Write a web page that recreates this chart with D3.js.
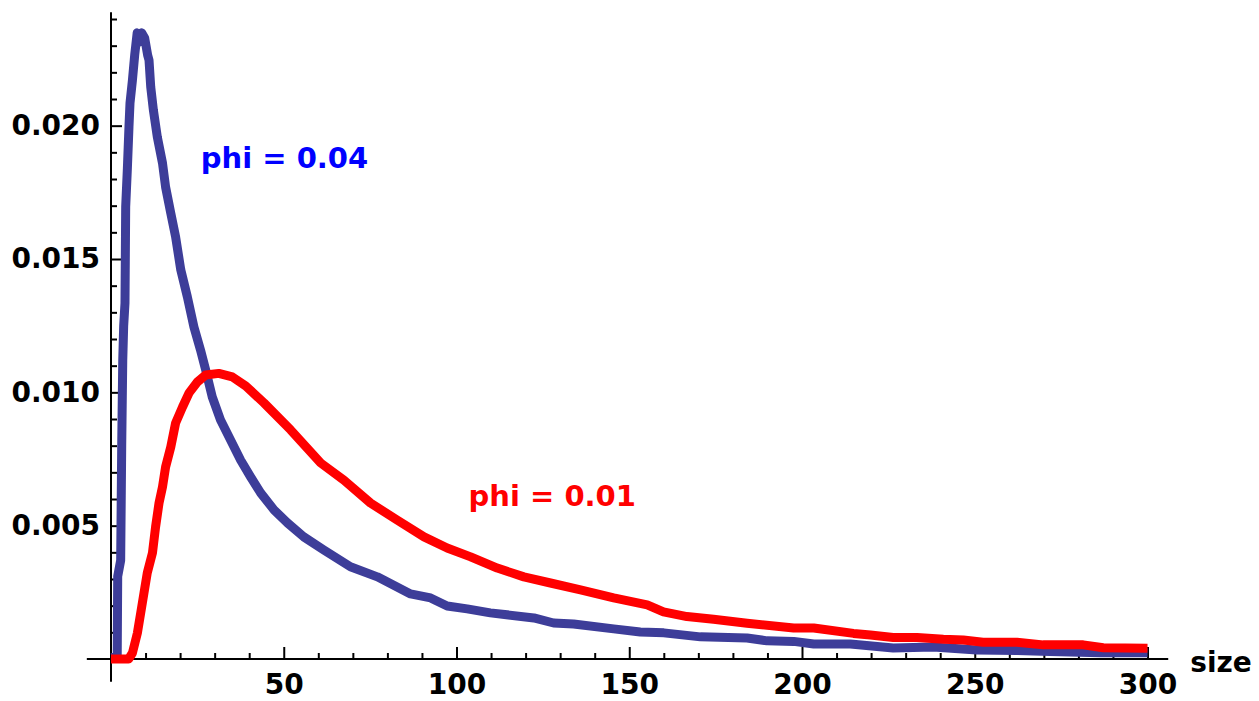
<!DOCTYPE html>
<html>
<head>
<meta charset="utf-8">
<script src="https://cdn.jsdelivr.net/npm/d3@7"></script>
<style>
  html, body { margin: 0; padding: 0; background: #fff; }
  svg text { font-family: "DejaVu Sans", sans-serif; font-weight: bold; }
</style>
</head>
<body>
<svg id="chart" width="1259" height="701"></svg>
<script>
// ---- data ----
const blueSize = [0.5, 1.8, 1.94, 2.8, 3.1, 3.4, 3.67, 4.05, 4.25, 4.74, 5.2, 5.5, 6.2, 6.86, 7.58, 8.3, 8.88, 9.75, 10.6, 11, 11.5, 12.26, 13.4, 14.9, 15.8, 17.3, 18.7, 20.2, 22.1, 24, 25.9, 27.4, 29.3, 31.7, 34.6, 37.5, 40.4, 43.3, 47.2, 51.1, 55.8, 61.6, 69.3, 77.1, 86.7, 92.5, 97.3, 103.1, 109.8, 122.4, 128.1, 133.9, 145.5, 153.2, 160, 170.6, 184.1, 189.9, 197.6, 203.4, 214, 226.4, 238, 250.6, 262.2, 271.8, 286.3, 300];
const blueValue = [0.00005, 0.00015, 0.0031, 0.0037, 0.008, 0.0112, 0.0125, 0.01335, 0.01695, 0.0184, 0.01995, 0.02085, 0.0217, 0.02265, 0.02348, 0.02314, 0.02348, 0.02329, 0.02265, 0.02246, 0.02145, 0.02059, 0.01958, 0.0186, 0.0177, 0.01672, 0.01583, 0.01459, 0.01358, 0.01245, 0.01159, 0.01084, 0.00983, 0.00896, 0.00821, 0.00746, 0.00683, 0.00623, 0.00559, 0.0051, 0.00458, 0.00409, 0.00346, 0.00308, 0.00244, 0.00229, 0.00199, 0.00188, 0.00173, 0.00154, 0.00135, 0.00131, 0.00113, 0.00101, 0.00098, 0.00083, 0.00079, 0.00068, 0.00066, 0.00056, 0.00056, 0.00041, 0.00045, 0.00034, 0.00032, 0.00028, 0.00023, 0.00023];

const redSize = [0, 5.1, 6.2, 7.64, 8.6, 9.55, 10.5, 12, 12.9, 13.9, 14.9, 15.8, 17.3, 18.7, 20.7, 22.6, 25, 27.4, 31.2, 35.1, 39, 44.3, 52, 60.7, 67.4, 75.1, 82.8, 90.6, 97.3, 104.1, 111.8, 119.5, 127.2, 135.9, 145.5, 155.2, 159.9, 166.7, 174.4, 184.1, 197.6, 203.4, 214.9, 219.8, 226.4, 233.3, 240.9, 246.7, 252.4, 262.2, 269.8, 281.4, 287.2, 300];
const redValue = [0, 0, 0.000225, 0.000975, 0.00173, 0.00248, 0.00323, 0.00398, 0.00495, 0.00585, 0.00645, 0.0072, 0.00795, 0.00885, 0.00945, 0.00998, 0.01039, 0.01065, 0.01071, 0.01058, 0.01024, 0.0096, 0.00859, 0.00735, 0.00671, 0.00585, 0.00521, 0.00458, 0.00416, 0.00383, 0.00341, 0.00308, 0.00285, 0.00259, 0.00229, 0.00203, 0.00177, 0.00159, 0.00149, 0.00134, 0.00116, 0.00116, 0.00096, 0.0009, 0.00081, 0.00081, 0.00074, 0.00071, 0.00063, 0.00063, 0.00053, 0.00053, 0.00042, 0.0004];

const xMajorTicks = [50, 100, 150, 200, 250, 300];
const xMinorTicks = [10, 20, 30, 40, 60, 70, 80, 90, 110, 120, 130, 140, 160, 170, 180, 190, 210, 220, 230, 240, 260, 270, 280, 290];
const yMajorTicks = [0.005, 0.010, 0.015, 0.020];
const yMinorTicks = [0.001, 0.002, 0.003, 0.004, 0.006, 0.007, 0.008, 0.009, 0.011, 0.012, 0.013, 0.014, 0.016, 0.017, 0.018, 0.019, 0.021, 0.022, 0.023, 0.024];
const xAxisExtent = [-7, 306];
const yAxisExtent = [-0.00085, 0.02425];
const labels = [
  { text: "phi = 0.04", size: 26, value: 0.0184, color: "#0000ff" },
  { text: "phi = 0.01", size: 103.5, value: 0.00575, color: "#ff0000" }
];

// ---- drawing ----
const svg = d3.select("#chart");
const x = d3.scaleLinear().domain([0, 300]).range([111, 1147.5]);
const y = d3.scaleLinear().domain([0, 0.024]).range([659, 19]);
const FS = 28;

// axis lines
svg.append("line")
  .attr("x1", x(xAxisExtent[0])).attr("x2", x(xAxisExtent[1]))
  .attr("y1", y(0)).attr("y2", y(0))
  .attr("stroke", "#000").attr("stroke-width", 2);
svg.append("line")
  .attr("x1", x(0)).attr("x2", x(0))
  .attr("y1", y(yAxisExtent[0])).attr("y2", y(yAxisExtent[1]))
  .attr("stroke", "#000").attr("stroke-width", 2);

function styleAxis(g) {
  g.select(".domain").remove();
  g.selectAll(".tick line").attr("stroke", "#000").attr("stroke-width", 2);
  g.selectAll(".tick text").attr("fill", "#000").style("font-size", FS + "px")
    .style("font-family", "DejaVu Sans, sans-serif").style("font-weight", "bold");
}

// x axis major
svg.append("g").attr("transform", `translate(0,${y(0)})`)
  .call(d3.axisBottom(x).tickValues(xMajorTicks).tickSizeInner(-12).tickSizeOuter(0)
    .tickPadding(15).tickFormat(d3.format("d")))
  .call(styleAxis);
// x axis minor
svg.append("g").attr("transform", `translate(0,${y(0)})`)
  .call(d3.axisBottom(x).tickValues(xMinorTicks).tickSizeInner(-6).tickSizeOuter(0).tickFormat(""))
  .call(styleAxis);
// y axis major
svg.append("g").attr("transform", `translate(${x(0)},0)`)
  .call(d3.axisLeft(y).tickValues(yMajorTicks).tickSizeInner(-11).tickSizeOuter(0)
    .tickPadding(11).tickFormat(d3.format(".3f")))
  .call(styleAxis);
// y axis minor
svg.append("g").attr("transform", `translate(${x(0)},0)`)
  .call(d3.axisLeft(y).tickValues(yMinorTicks).tickSizeInner(-6).tickSizeOuter(0).tickFormat(""))
  .call(styleAxis);

// axis label
svg.append("text")
  .attr("x", x(xAxisExtent[1]) + 22).attr("y", y(0) + 12.5)
  .style("font-size", FS + "px").attr("fill", "#000")
  .text("size");

// curves
const line = d3.line().x(d => x(d[0])).y(d => y(d[1]));
const blueData = blueSize.map((s, i) => [s, blueValue[i]]);
const redData = redSize.map((s, i) => [s, redValue[i]]);

svg.append("path").datum(blueData).attr("d", line)
  .attr("fill", "none").attr("stroke", "rgb(61,61,153)").attr("stroke-width", 9)
  .attr("stroke-linejoin", "round");
svg.append("path").datum(redData).attr("d", line)
  .attr("fill", "none").attr("stroke", "#ff0000").attr("stroke-width", 9)
  .attr("stroke-linejoin", "round");

// series labels
labels.forEach(l => {
  svg.append("text")
    .attr("x", x(l.size)).attr("y", y(l.value))
    .attr("fill", l.color).style("font-size", "29px")
    .text(l.text);
});
</script>
</body>
</html>
